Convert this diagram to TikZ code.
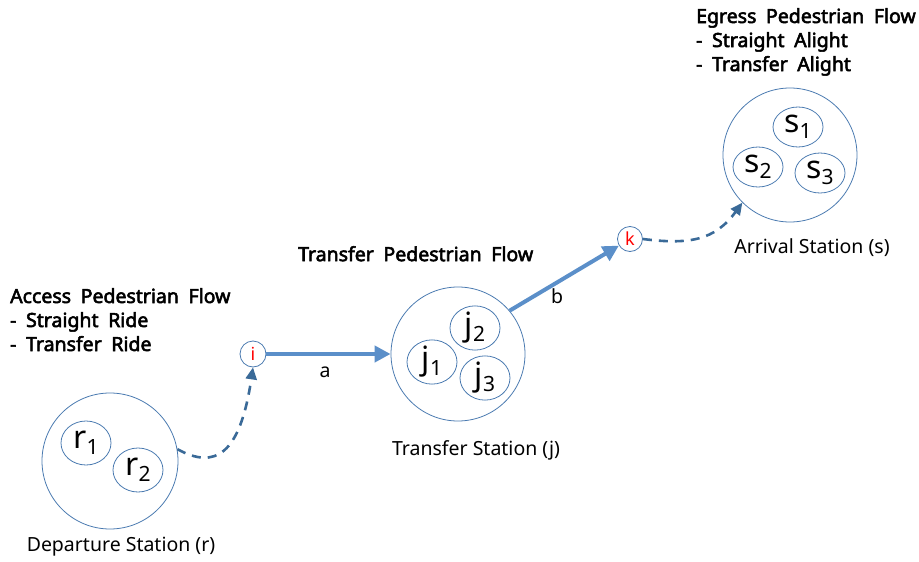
\documentclass[tikz,border=0pt]{standalone}
\usepackage{fontspec}
\setmainfont{Noto Sans}
\newfontfamily\headfont{Noto Sans}[FakeBold=2.8, WordSpace=1.9]
\usetikzlibrary{arrows.meta,shapes.geometric}
\definecolor{ring}{HTML}{4A7AB0}
\definecolor{solidarrow}{HTML}{5B8FC9}
\definecolor{dasharrow}{HTML}{3A6A98}
\newcommand{\subl}[2]{{\fontsize{32}{32}\selectfont #1}\raisebox{-6pt}{\fontsize{21}{21}\selectfont #2}}
\tikzset{
  big/.style={draw=ring, line width=0.8pt, circle, minimum size=136pt, inner sep=0pt},
  small/.style={draw=ring, line width=0.8pt, ellipse, minimum width=50pt, minimum height=44pt, inner sep=0pt},
  pt/.style={draw=ring, line width=0.8pt, circle, minimum size=26pt, inner sep=0pt, text=red, font=\fontsize{18}{18}\selectfont},
  lbl/.style={font=\fontsize{19.5}{22}\selectfont, inner sep=0pt},
  head/.style={font=\headfont\fontsize{19.5}{24}\selectfont, align=left, inner sep=0pt, anchor=north west},
  solidflow/.style={draw=solidarrow, line width=4pt, -{Triangle[length=16pt,width=16pt]}},
  dashflow/.style={draw=dasharrow, line width=2.6pt, dash pattern=on 9pt off 7pt, -{Triangle[length=12pt,width=11pt]}}
}
\begin{document}
\begin{tikzpicture}[x=1pt,y=-1pt]
\useasboundingbox (0,0) rectangle (919,562);
% departure
\node[big] (dep) at (110,461) {};
\node[small] (r1) at (86,443) {\subl{r}{1}};
\node[small] (r2) at (138,470) {\subl{r}{2}};
\node[lbl] (deplbl) at (121,547) {Departure Station (r)};
% transfer
\node[big, minimum size=134pt] (tra) at (458,354) {};
\node[small] (j2) at (475,328) {\subl{j}{2}};
\node[small] (j1) at (432,362) {\subl{j}{1}};
\node[small] (j3) at (485,378) {\subl{j}{3}};
\node[lbl] (tralbl) at (476,450) {Transfer Station (j)};
% arrival
\node[big, minimum size=134pt] (arr) at (790,155) {};
\node[small, minimum height=40pt] (s1) at (798,127) {\subl{s}{1}};
\node[small, minimum height=40pt] (s2) at (758,167) {\subl{s}{2}};
\node[small, minimum height=40pt] (s3) at (820,173) {\subl{s}{3}};
\node[lbl] (arrlbl) at (812,248) {Arrival Station (s)};
% points
\node[pt] (i) at (253,354) {i};
\node[pt, minimum size=25pt] (k) at (630,239) {k};
% connectors
\draw[solidflow] (i) -- (tra);
\node[lbl] (a) at (325,372) {a};
\draw[solidflow] (tra.40) -- (k);
\node[lbl] (b) at (557,296) {b};
\draw[dashflow] (dep.10) .. controls (215,470) and (240,455) .. (i.south);
\draw[dashflow] (k.east) .. controls (690,245) and (715,240) .. (arr.225);
% headings
\node[head] (acc) at (10,288) {Access Pedestrian Flow\\- Straight Ride\\- Transfer Ride};
\node[head] (trf) at (298,246) {Transfer Pedestrian Flow};
\node[head] (egr) at (696,8) {Egress Pedestrian Flow\\- Straight Alight\\- Transfer Alight};
\end{tikzpicture}
\end{document}
